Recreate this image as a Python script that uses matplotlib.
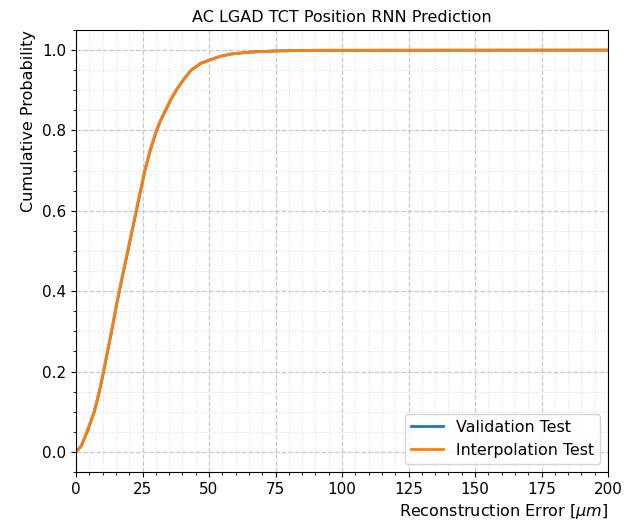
import numpy as np
import matplotlib
matplotlib.use('Agg')
import matplotlib.pyplot as plt
from matplotlib.ticker import MultipleLocator

# Reconstruction error [um] and cumulative probability
val_err = [0, 2, 4.2, 6.9, 8.8, 10.4, 11.9, 13.4, 14.8, 16.3, 17.9, 19.5, 21.1, 22.7, 24.3, 25.9, 27.9, 30.3, 31.9, 33.7, 35.6, 37.7, 40.3, 43.3, 46.9, 50.1, 54, 58, 65, 75, 90, 200]
val_cdf = [0, 0.015, 0.05, 0.10, 0.15, 0.20, 0.25, 0.30, 0.35, 0.40, 0.45, 0.50, 0.55, 0.60, 0.65, 0.70, 0.75, 0.80, 0.826, 0.85, 0.876, 0.90, 0.925, 0.95, 0.967, 0.975, 0.984, 0.99, 0.995, 0.998, 0.9995, 1.0]

int_err = [0, 2, 4.1, 6.8, 8.7, 10.3, 11.8, 13.3, 14.7, 16.2, 17.8, 19.4, 21.0, 22.6, 24.2, 25.8, 27.8, 30.2, 31.8, 33.6, 35.5, 37.6, 40.2, 43.2, 46.8, 50.0, 54, 58, 65, 75, 90, 200]
int_cdf = [0, 0.015, 0.05, 0.10, 0.15, 0.20, 0.25, 0.30, 0.35, 0.40, 0.45, 0.50, 0.55, 0.60, 0.65, 0.70, 0.75, 0.80, 0.826, 0.85, 0.876, 0.90, 0.925, 0.95, 0.967, 0.975, 0.984, 0.99, 0.995, 0.998, 0.9995, 1.0]

fig = plt.figure(figsize=(6.25, 5.24), dpi=100)
ax = fig.add_axes([0.1216, 0.0992, 0.8512, 0.8435])

ax.plot(val_err, val_cdf, color='#1f77b4', lw=2, label='Validation Test')
ax.plot(int_err, int_cdf, color='#ff7f0e', lw=2, label='Interpolation Test')

ax.set_xlim(0, 200)
ax.set_ylim(-0.05, 1.05)
ax.xaxis.set_major_locator(MultipleLocator(25))
ax.xaxis.set_minor_locator(MultipleLocator(5))
ax.yaxis.set_major_locator(MultipleLocator(0.2))
ax.yaxis.set_minor_locator(MultipleLocator(0.05))
ax.grid(which='major', linestyle='--', color='#c8c8c8', linewidth=0.9)
ax.grid(which='minor', linestyle=':', color='#e0e0e0', linewidth=0.8)
ax.set_axisbelow(True)

ax.tick_params(labelsize=11)
ax.set_title('AC LGAD TCT Position RNN Prediction', fontsize=11.5)
ax.set_xlabel(r'Reconstruction Error [$\mu m$]', fontsize=11.5, loc='right')
ax.set_ylabel('Cumulative Probability', fontsize=11.5, loc='top')
ax.legend(loc='lower right', fontsize=11.4)

fig.savefig('out.png', dpi=100)
